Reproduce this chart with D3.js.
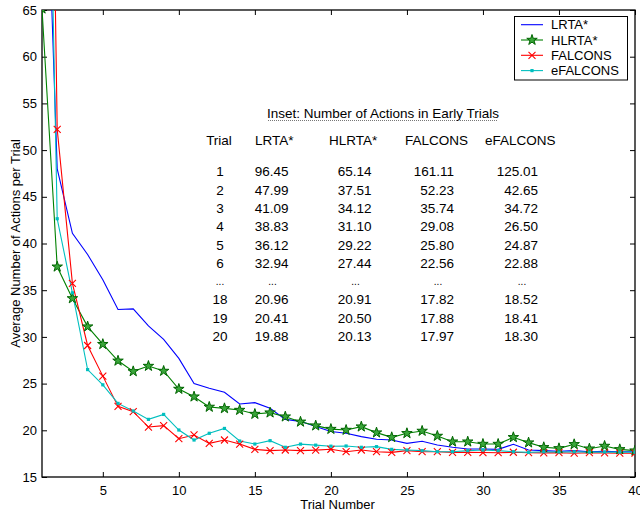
<!DOCTYPE html>
<html lang="en">
<head>
<meta charset="UTF-8">
<title>Average Number of Actions per Trial</title>
<script src="https://cdn.jsdelivr.net/npm/d3@7"></script>
<style>
  body { margin: 0; background: #fff; }
  svg { font-family: "Liberation Sans", Arial, Helvetica, sans-serif; }
</style>
</head>
<body>
<svg id="chart" width="640" height="515"></svg>
<script>
  const lrta = [96.45, 47.99, 41.09, 38.83, 36.12, 32.94, 33.0, 31.17, 29.74, 27.7,
                25.0, 24.5, 24.07, 22.82, 22.96, 22.35, 21.17, 20.96, 20.41, 19.88,
                19.68, 19.32, 19.04, 18.96, 18.6, 18.82, 18.43, 18.18, 18.0, 18.0,
                17.96, 18.5, 17.89, 17.82, 17.75, 17.82, 17.71, 17.75, 17.71, 17.71];
  const hlrta = [65.14, 37.51, 34.12, 31.10, 29.22, 27.44, 26.31, 26.88, 26.35, 24.42,
                 23.6, 22.5, 22.35, 22.17, 21.74, 21.89, 21.46, 20.91, 20.50, 20.13,
                 20.03, 20.39, 19.75, 19.25, 19.68, 19.93, 19.39, 18.78, 18.78, 18.53,
                 18.53, 19.25, 18.68, 18.18, 18.07, 18.5, 18.03, 18.32, 17.96, 17.82];
  const falcons = [161.11, 52.23, 35.74, 29.08, 25.80, 22.56, 22.0, 20.35, 20.5, 19.1,
                   19.5, 18.6, 18.96, 18.53, 17.96, 17.82, 17.89, 17.82, 17.88, 17.97,
                   17.71, 17.89, 17.71, 17.64, 17.82, 17.71, 17.71, 17.64, 17.64, 17.62,
                   17.6, 17.65, 17.6, 17.58, 17.6, 17.55, 17.6, 17.58, 17.55, 17.55];
  const efalcons = [125.01, 42.65, 34.72, 26.50, 24.87, 22.88, 22.07, 21.17, 21.7, 20.03,
                    18.96, 19.68, 20.2, 18.85, 18.53, 18.89, 18.18, 18.52, 18.41, 18.30,
                    18.32, 18.18, 18.25, 17.96, 17.89, 17.82, 17.71, 17.71, 17.82, 17.89,
                    17.82, 17.71, 17.64, 17.7, 17.68, 17.7, 17.66, 17.68, 17.66, 17.65];

  const seriesNames = ["LRTA*", "HLRTA*", "FALCONS", "eFALCONS"];
  const xTicks = [5, 10, 15, 20, 25, 30, 35, 40];
  const yTicks = [15, 20, 25, 30, 35, 40, 45, 50, 55, 60, 65];
  const insetTrials = [1, 2, 3, 4, 5, 6, null, 18, 19, 20];  // null = "..." row

  const series = [
    {name: seriesNames[0], values: lrta, color: "#0000ff", marker: "none"},
    {name: seriesNames[1], values: hlrta, color: "#008000", marker: "star"},
    {name: seriesNames[2], values: falcons, color: "#ff0000", marker: "cross"},
    {name: seriesNames[3], values: efalcons, color: "#00bfbf", marker: "dot"}
  ];

  const svg = d3.select("#chart");
  const pl = 42, pr = 635, pt = 10, pb = 477;

  const x = d3.scaleLinear().domain([1, 40]).range([pl, pr]);
  const y = d3.scaleLinear().domain([15, 65]).range([pb, pt]);

  svg.append("defs").append("clipPath").attr("id", "clip")
    .append("rect").attr("x", pl).attr("y", pt)
    .attr("width", pr - pl).attr("height", pb - pt);

  // axes with inward ticks, mirrored on top and right
  const fs = "13px";
  const axB = svg.append("g").attr("transform", `translate(0,${pb})`)
    .call(d3.axisBottom(x).tickValues(xTicks).tickSize(-5).tickPadding(9));
  const axT = svg.append("g").attr("transform", `translate(0,${pt})`)
    .call(d3.axisTop(x).tickValues(xTicks).tickSize(-5).tickFormat(""));
  const axL = svg.append("g").attr("transform", `translate(${pl},0)`)
    .call(d3.axisLeft(y).tickValues(yTicks).tickSize(-5).tickPadding(5));
  const axR = svg.append("g").attr("transform", `translate(${pr},0)`)
    .call(d3.axisRight(y).tickValues(yTicks).tickSize(-5).tickFormat(""));
  [axB, axT, axL, axR].forEach(g => {
    g.select(".domain").remove();
    g.selectAll("line").attr("stroke", "#000");
    g.selectAll("text").attr("fill", "#000").style("font-size", fs)
      .style("font-family", "Liberation Sans, Arial, sans-serif");
  });

  svg.append("rect").attr("x", pl).attr("y", pt)
    .attr("width", pr - pl).attr("height", pb - pt)
    .attr("fill", "none").attr("stroke", "#000").attr("stroke-width", 1.3);

  svg.append("text").attr("x", (pl + pr) / 2 - 1).attr("y", 509)
    .attr("text-anchor", "middle").style("font-size", fs).text("Trial Number");
  svg.append("text")
    .attr("transform", `translate(15,${(pt + pb) / 2}) rotate(-90)`)
    .attr("text-anchor", "middle").attr("dy", "0.35em")
    .style("font-size", fs).text("Average Number of Actions per Trial");

  // markers
  const starPath = d3.symbol(d3.symbolStar, 34)();
  function drawMarker(g, kind, color) {
    if (kind === "star") {
      g.append("path").attr("d", starPath)
        .attr("fill", "#3aa63a").attr("stroke", "#006400").attr("stroke-width", 1);
    } else if (kind === "cross") {
      g.append("path").attr("d", "M-3.5,-3.5L3.5,3.5M-3.5,3.5L3.5,-3.5")
        .attr("stroke", color).attr("stroke-width", 1.1).attr("fill", "none");
    } else if (kind === "dot") {
      g.append("rect").attr("x", -1.6).attr("y", -1.6).attr("width", 3.2).attr("height", 3.2)
        .attr("fill", color);
    }
  }

  const line = d3.line().x((d, i) => x(i + 1)).y(d => y(d));
  const plot = svg.append("g").attr("clip-path", "url(#clip)");

  series.forEach(s => {
    plot.append("path").datum(s.values)
      .attr("d", line).attr("fill", "none")
      .attr("stroke", s.color).attr("stroke-width", 1.1);
  });
  series.forEach(s => {
    if (s.marker === "none") return;
    s.values.forEach((v, i) => {
      const g = plot.append("g").attr("transform", `translate(${x(i + 1)},${y(v)})`);
      drawMarker(g, s.marker, s.color);
    });
  });

  // legend
  const lg = svg.append("g");
  lg.append("rect").attr("x", 514.5).attr("y", 16.5).attr("width", 113).attr("height", 63.5)
    .attr("fill", "#fff").attr("stroke", "#000").attr("stroke-width", 1);
  series.forEach((s, i) => {
    const yy = 24.7 + i * 15.3;
    lg.append("line").attr("x1", 521).attr("x2", 543).attr("y1", yy).attr("y2", yy)
      .attr("stroke", s.color).attr("stroke-width", 1.1);
    const g = lg.append("g").attr("transform", `translate(532,${yy})`);
    drawMarker(g, s.marker, s.color);
    lg.append("text").attr("x", 551).attr("y", yy).attr("dy", "0.36em")
      .style("font-size", fs).text(s.name);
  });

  // inset table, built from the series arrays
  const tf = "13.5px";
  const inset = svg.append("g");
  inset.append("text").attr("x", 383).attr("y", 113).attr("dy", "0.36em")
    .attr("text-anchor", "middle").style("font-size", tf)
    .text("Inset: Number of Actions in Early Trials");
  inset.append("line").attr("x1", 268).attr("x2", 498).attr("y1", 120.5).attr("y2", 120.5)
    .attr("stroke", "#777").attr("stroke-width", 1).attr("stroke-dasharray", "1,1");

  const headers = [
    {t: "Trial", x: 219, anchor: "middle"},
    {t: seriesNames[0], x: 255, anchor: "start"},
    {t: seriesNames[1], x: 329, anchor: "start"},
    {t: seriesNames[2], x: 405, anchor: "start"},
    {t: seriesNames[3], x: 485, anchor: "start"}
  ];
  headers.forEach(h => {
    inset.append("text").attr("x", h.x).attr("y", 140).attr("dy", "0.36em")
      .attr("text-anchor", h.anchor).style("font-size", tf).text(h.t);
  });

  // value columns: x = right edge of the numbers
  const colRight = [288.5, 371.5, 454, 538];
  insetTrials.forEach((t, k) => {
    const yy = 171.5 + k * 18.3;
    const dots = t === null;
    inset.append("text").attr("x", 220).attr("y", yy).attr("dy", "0.36em")
      .attr("text-anchor", "middle").style("font-size", dots ? "10px" : tf)
      .text(dots ? "..." : t);
    series.forEach((s, j) => {
      inset.append("text")
        .attr("x", dots ? colRight[j] - 16 : colRight[j]).attr("y", yy).attr("dy", "0.36em")
        .attr("text-anchor", dots ? "middle" : "end")
        .style("font-size", dots ? "10px" : tf)
        .text(dots ? "..." : s.values[t - 1].toFixed(2));
    });
  });
</script>
</body>
</html>
